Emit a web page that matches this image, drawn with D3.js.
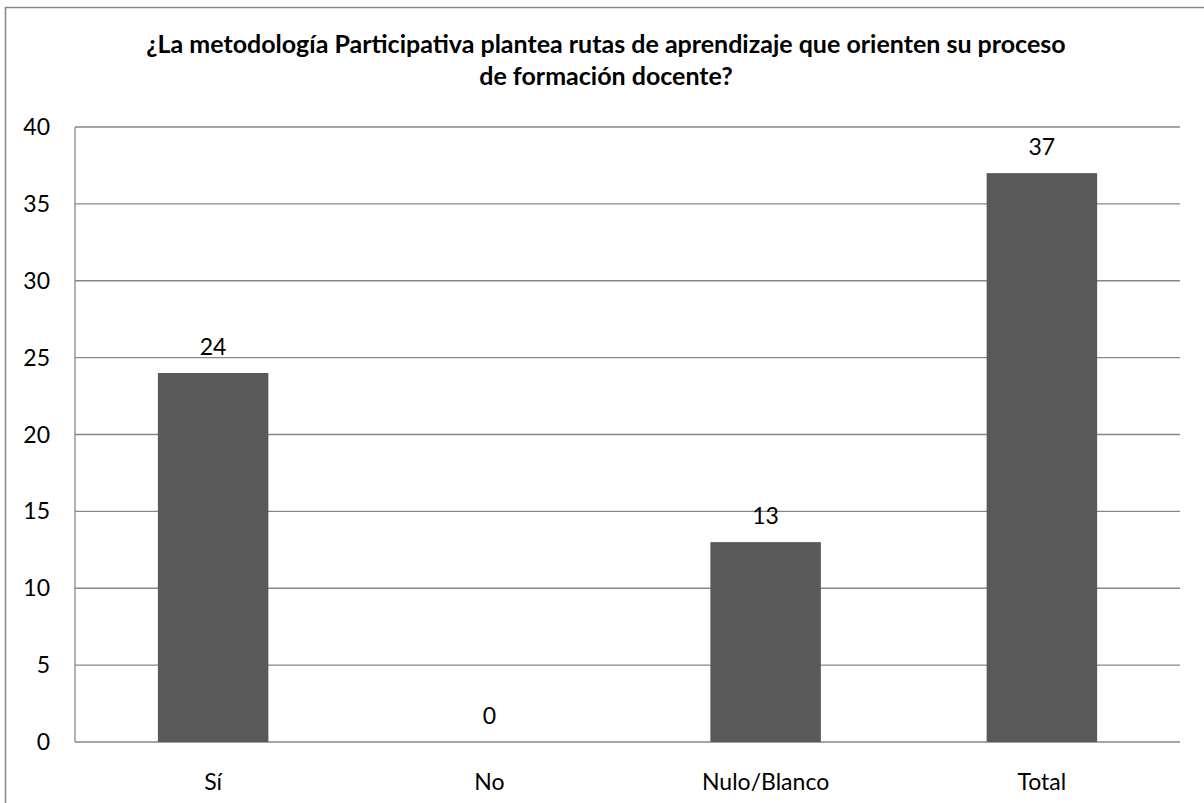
<!DOCTYPE html>
<html><head><meta charset="utf-8">
<script src="https://cdn.jsdelivr.net/npm/d3@7"></script>
<style>body{margin:0;background:#fff}svg{display:block}</style>
</head><body>
<script>
const categories = ["Sí", "No", "Nulo/Blanco", "Total"];
const values = [24, 0, 13, 37];
const yTicks = [0, 5, 10, 15, 20, 25, 30, 35, 40];
const titleLines = ["¿La metodología Participativa plantea rutas de aprendizaje que orienten su proceso", "de formación docente?"];

const W = 1204, H = 803;
const m = {left: 75, right: 24, top: 127, bottom: 61};
const font = "Lato, 'Open Sans', sans-serif";
const fs = 23;
const svg = d3.select("body").append("svg").attr("width", W).attr("height", H);
svg.append("rect").attr("width", W).attr("height", H).attr("fill", "#fff");
// outer border
svg.append("path").attr("d", `M5.5,${H+5} V7.5 H${W+5}`).attr("fill", "none").attr("stroke", "#878787").attr("stroke-width", 1.5);

const x = d3.scaleBand().domain(categories).range([m.left, W - m.right]).paddingInner(0.6).paddingOuter(0.3);
const y = d3.scaleLinear().domain([0, 40]).range([H - m.bottom, m.top]);

// gridlines
svg.append("g").selectAll("line").data(yTicks).join("line")
  .attr("x1", m.left).attr("x2", W - m.right)
  .attr("y1", d => y(d)).attr("y2", d => y(d))
  .attr("stroke", "#878787").attr("stroke-width", 1.3);
// y-axis line
svg.append("line").attr("x1", m.left).attr("x2", m.left).attr("y1", y(40)).attr("y2", y(0)).attr("stroke", "#878787").attr("stroke-width", 1.3);

// y tick labels
svg.append("g").selectAll("text").data(yTicks).join("text")
  .attr("x", 50).attr("y", d => y(d) + 8)
  .attr("text-anchor", "end").attr("font-family", font).attr("font-size", fs).attr("fill", "#000")
  .text(d => d);

// bars
svg.append("g").selectAll("rect").data(values).join("rect")
  .attr("x", (d, i) => x(categories[i])).attr("width", x.bandwidth())
  .attr("y", d => y(d)).attr("height", d => y(0) - y(d))
  .attr("fill", "#595959");

// value labels
svg.append("g").selectAll("text").data(values).join("text")
  .attr("x", (d, i) => x(categories[i]) + x.bandwidth() / 2).attr("y", d => y(d) - 18)
  .attr("text-anchor", "middle").attr("font-family", font).attr("font-size", fs).attr("fill", "#000")
  .text(d => d);

// x labels
svg.append("g").selectAll("text").data(categories).join("text")
  .attr("x", d => x(d) + x.bandwidth() / 2).attr("y", 790)
  .attr("text-anchor", "middle").attr("font-family", font).attr("font-size", fs).attr("fill", "#000")
  .text(d => d);

// title
svg.append("g").selectAll("text").data(titleLines).join("text")
  .attr("x", 606).attr("y", (d, i) => 53 + i * 32)
  .attr("text-anchor", "middle").attr("font-family", font).attr("font-size", 25).attr("font-weight", "bold").attr("fill", "#000")
  .text(d => d);
</script>
</body></html>
